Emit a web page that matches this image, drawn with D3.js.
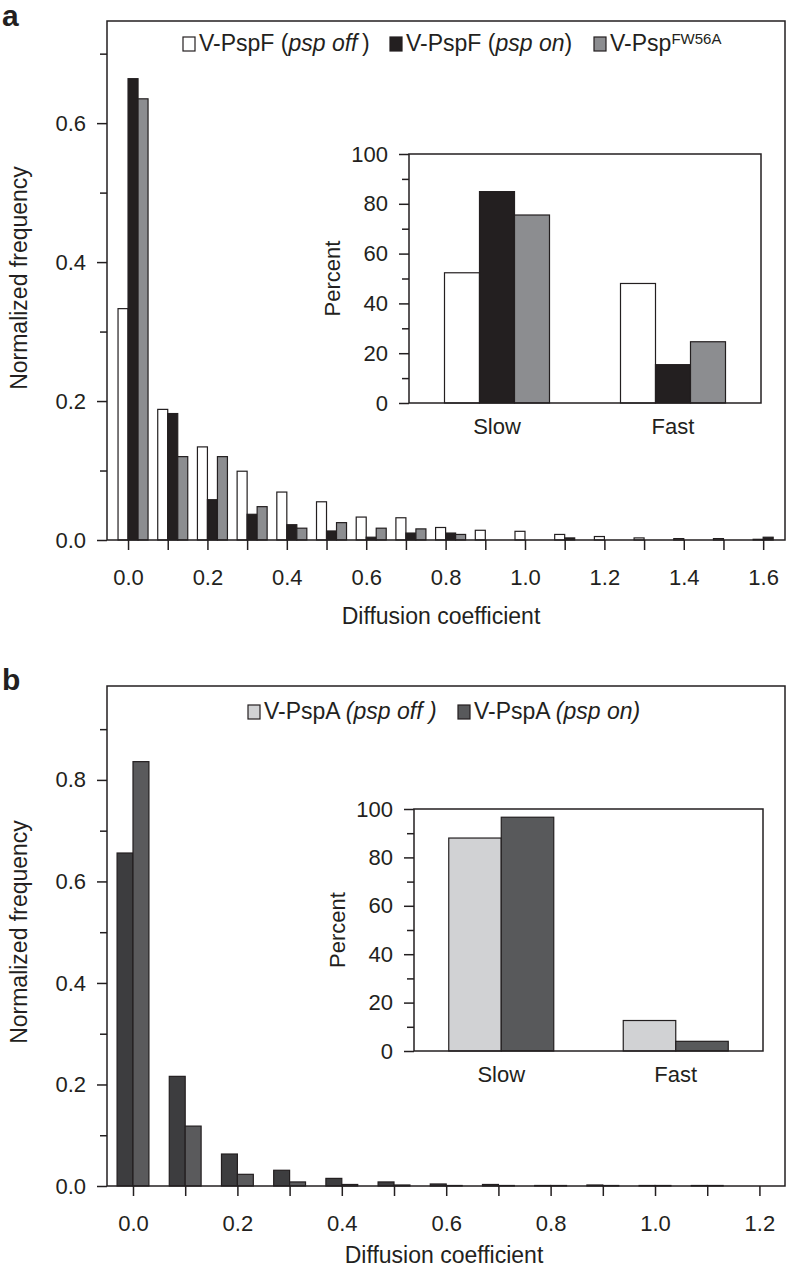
<!DOCTYPE html>
<html><head><meta charset="utf-8">
<script src="https://cdn.jsdelivr.net/npm/d3@7"></script>
<style>
html,body{margin:0;padding:0;background:#fff;}
svg{display:block;}
text{font-family:"Liberation Sans",Arial,Helvetica,sans-serif;fill:#231f20;}
</style></head><body>
<svg id="chart" width="788" height="1273"></svg>
<script>
// ---------- Panel a: histogram ----------
const binsA   = [0.0,0.1,0.2,0.3,0.4,0.5,0.6,0.7,0.8,0.9,1.0,1.1,1.2,1.3,1.4,1.5,1.6];
const pspOffA = [0.333,0.188,0.134,0.099,0.069,0.055,0.033,0.032,0.018,0.014,0.0125,0.008,0.005,0.003,0.002,0.002,0.001];
const pspOnA  = [0.664,0.182,0.058,0.037,0.022,0.013,0.004,0.010,0.010,0,0,0.003,0,0,0,0,0.004];
const fw56aA  = [0.635,0.120,0.120,0.048,0.017,0.025,0.017,0.016,0.008,0,0,0,0,0,0,0,0];
const xTicksA = [0.0,0.1,0.2,0.3,0.4,0.5,0.6,0.7,0.8,0.9,1.0,1.1,1.2,1.3,1.4,1.5,1.6];
const yMajorA = [0.0,0.2,0.4,0.6];
const yMinorA = [0.1,0.3,0.5,0.7];
// ---------- Panel a: inset ----------
const insetCats = ["Slow","Fast"];
const insetOffA = [52.3,48.0];
const insetOnA  = [84.9,15.4];
const insetFwA  = [75.5,24.6];
const insetMajor = [0,20,40,60,80,100];
const insetMinor = [10,30,50,70,90];
// ---------- Panel b: histogram ----------
const binsB   = [0.0,0.1,0.2,0.3,0.4,0.5,0.6,0.7,0.8,0.9,1.0,1.1,1.2];
const pspOffB = [0.656,0.216,0.063,0.031,0.015,0.008,0.004,0.003,0.001,0.002,0.001,0.001,0];
const pspOnB  = [0.836,0.118,0.023,0.008,0.003,0.002,0.001,0.001,0.001,0.001,0.001,0.001,0];
const xTicksB = [0.0,0.1,0.2,0.3,0.4,0.5,0.6,0.7,0.8,0.9,1.0,1.1,1.2];
const yMajorB = [0.0,0.2,0.4,0.6,0.8];
const yMinorB = [0.1,0.3,0.5,0.7,0.9];
// ---------- Panel b: inset ----------
const insetOffB = [88.0,12.6];
const insetOnB  = [96.6,4.0];

const INK = "#231f20";
const FS = 22;      // tick labels
const FT = 23;      // titles & legend
const fmt = d3.format(".1f");
const svg = d3.select("#chart");

function styleAxis(g){
  g.select(".domain").remove();
  g.selectAll(".tick line").attr("stroke",INK).attr("stroke-width",1.5);
  g.selectAll(".tick text").attr("font-size",FS).attr("fill",INK)
    .style("font-family",'"Liberation Sans",Arial,Helvetica,sans-serif');
}

function drawHist(o){
  const g = svg.append("g");
  const x = d3.scaleLinear().domain(o.xDomain).range([o.left,o.right]);
  const y = d3.scaleLinear().domain(o.yDomain).range([o.bottom,o.top]);
  o.series.forEach((s,k)=>{
    g.selectAll(null).data(o.bins.map((b,i)=>({b:b,v:s.values[i]})).filter(d=>d.v>0))
      .enter().append("rect")
      .attr("x",d=>x(d.b + (k - o.anchor)*o.barW))
      .attr("width",x(o.barW)-x(0))
      .attr("y",d=>y(d.v))
      .attr("height",d=>y(0)-y(d.v))
      .attr("fill",s.color).attr("stroke",INK).attr("stroke-width",1.2);
  });
  g.append("rect").attr("x",o.left).attr("y",o.top)
    .attr("width",o.right-o.left).attr("height",o.bottom-o.top)
    .attr("fill","none").attr("stroke",INK).attr("stroke-width",1.5);
  const xa = g.append("g").attr("transform",`translate(0,${o.bottom})`)
    .call(d3.axisBottom(x).tickValues(o.xTicks).tickSize(10).tickPadding(19)
      .tickFormat(d=> Math.round(d*10)%2===0 ? fmt(d) : ""));
  styleAxis(xa);
  const ya = g.append("g").attr("transform",`translate(${o.left},0)`)
    .call(d3.axisLeft(y).tickValues(o.yMajor).tickSize(10).tickPadding(11).tickFormat(fmt));
  styleAxis(ya);
  const ym = g.append("g").attr("transform",`translate(${o.left},0)`)
    .call(d3.axisLeft(y).tickValues(o.yMinor).tickSize(7).tickFormat(""));
  styleAxis(ym);
  g.append("text").attr("x",o.xTitleX).attr("y",o.xTitleY).attr("text-anchor","middle")
    .attr("font-size",FT).text("Diffusion coefficient");
  g.append("text").attr("transform",`translate(27,${o.yTitleY}) rotate(-90)`)
    .attr("text-anchor","middle").attr("font-size",FT).text("Normalized frequency");
  return g;
}

function drawInset(o){
  const g = svg.append("g");
  const x0 = d3.scaleBand().domain(insetCats).range([o.x0,o.x1]);
  const x1 = d3.scaleBand().domain(d3.range(o.series.length)).range([-52.5,52.5]);
  const y = d3.scaleLinear().domain([0,100]).range([o.y1,o.y0]);
  g.append("rect").attr("x",o.x0).attr("y",o.y0).attr("width",o.x1-o.x0).attr("height",o.y1-o.y0)
    .attr("fill","#fff").attr("stroke","none");
  o.series.forEach((s,k)=>{
    g.selectAll(null).data(insetCats.map((c,i)=>({c:c,v:s.values[i]})))
      .enter().append("rect")
      .attr("x",d=>x0(d.c)+x0.bandwidth()/2 + x1(k))
      .attr("width",x1.bandwidth())
      .attr("y",d=>y(d.v)).attr("height",d=>y(0)-y(d.v))
      .attr("fill",s.color).attr("stroke",INK).attr("stroke-width",1.2);
  });
  g.append("rect").attr("x",o.x0).attr("y",o.y0).attr("width",o.x1-o.x0).attr("height",o.y1-o.y0)
    .attr("fill","none").attr("stroke",INK).attr("stroke-width",1.5);
  const ya = g.append("g").attr("transform",`translate(${o.x0},0)`)
    .call(d3.axisLeft(y).tickValues(insetMajor).tickSize(10).tickPadding(11));
  styleAxis(ya);
  const ym = g.append("g").attr("transform",`translate(${o.x0},0)`)
    .call(d3.axisLeft(y).tickValues(insetMinor).tickSize(7).tickFormat(""));
  styleAxis(ym);
  g.selectAll(null).data(insetCats).enter().append("text")
    .attr("x",d=>x0(d)+x0.bandwidth()/2).attr("y",o.y1+31)
    .attr("text-anchor","middle").attr("font-size",FS).text(d=>d);
  g.append("text").attr("transform",`translate(${o.x0-69},${(o.y0+o.y1)/2}) rotate(-90)`)
    .attr("text-anchor","middle").attr("font-size",FS).text("Percent");
}

function legend(items, y){
  const g = svg.append("g");
  items.forEach(it=>{
    g.append("rect").attr("x",it.x).attr("y",y-14).attr("width",12).attr("height",14)
      .attr("fill",it.color).attr("stroke",INK).attr("stroke-width",1.2);
    const t = g.append("text").attr("x",it.x+16).attr("y",y).attr("font-size",FT);
    it.parts.forEach(p=>{
      const ts = t.append("tspan").text(p.t);
      if(p.i) ts.attr("font-style","italic");
      if(p.sup) ts.attr("font-size",15).attr("baseline-shift","45%");
    });
  });
}

svg.append("text").attr("x",2).attr("y",26).attr("font-size",30).attr("font-weight","bold").text("a");
svg.append("text").attr("x",2).attr("y",690).attr("font-size",30).attr("font-weight","bold").text("b");

drawHist({
  bins:binsA, xDomain:[-0.053,1.655], yDomain:[0,0.747],
  left:107,right:785,top:21,bottom:540, barW:0.0252, anchor:1,
  series:[{values:pspOffA,color:"#ffffff"},{values:pspOnA,color:"#231f20"},{values:fw56aA,color:"#8c8d90"}],
  xTicks:xTicksA, yMajor:yMajorA, yMinor:yMinorA, xTitleX:441, xTitleY:624, yTitleY:278
});
legend([
  {x:183,color:"#ffffff",parts:[{t:"V-PspF ("},{t:"psp off",i:true},{t:"\u2009)"}]},
  {x:390,color:"#231f20",parts:[{t:"V-PspF ("},{t:"psp on",i:true},{t:")"}]},
  {x:594,color:"#8c8d90",parts:[{t:"V-Psp"},{t:"FW56A",sup:true}]}
],51);
drawInset({x0:409,x1:761,y0:154,y1:403,
  series:[{values:insetOffA,color:"#ffffff"},{values:insetOnA,color:"#231f20"},{values:insetFwA,color:"#8c8d90"}]});

drawHist({
  bins:binsB, xDomain:[-0.0498,1.249], yDomain:[0,0.985],
  left:107,right:785,top:686,bottom:1186, barW:0.0305, anchor:1,
  series:[{values:pspOffB,color:"#3d3d3f"},{values:pspOnB,color:"#5a5a5c"}],
  xTicks:xTicksB, yMajor:yMajorB, yMinor:yMinorB, xTitleX:444, xTitleY:1263, yTitleY:932
});
legend([
  {x:248,color:"#d1d2d4",parts:[{t:"V-PspA "},{t:"(psp off )",i:true}]},
  {x:458,color:"#58595b",parts:[{t:"V-PspA "},{t:"(psp on)",i:true}]}
],719);
drawInset({x0:414,x1:763,y0:809,y1:1051,
  series:[{values:insetOffB,color:"#d1d2d4"},{values:insetOnB,color:"#58595b"}]});
</script>
</body></html>
